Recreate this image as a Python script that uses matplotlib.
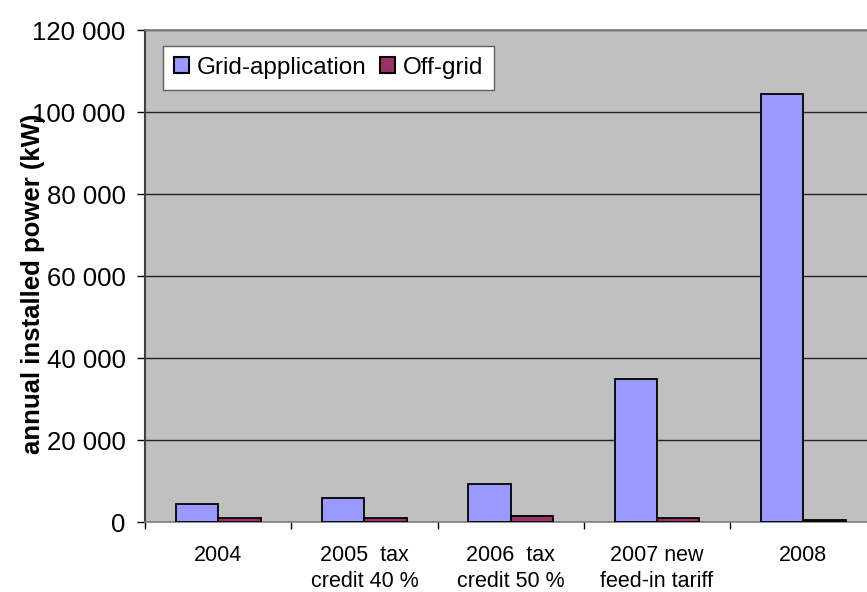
import numpy as np
import matplotlib.pyplot as plt
from matplotlib.ticker import FuncFormatter

plt.rcParams['font.family'] = ['Liberation Sans', 'DejaVu Sans']

categories = ['2004', '2005  tax\ncredit 40 %', '2006  tax\ncredit 50 %',
              '2007 new\nfeed-in tariff', '2008']
grid_kw = [4300, 5800, 9300, 35000, 104400]
offgrid_kw = [900, 900, 1400, 900, 400]

fig = plt.figure(figsize=(8.67, 5.92), dpi=100)
# plot area runs a bit past the right edge of the figure
ax = fig.add_axes([0.1672, 0.1182, 0.8437, 0.8311])
ax.set_facecolor('#C0C0C0')

x = np.arange(len(categories))
w = 0.29
ax.bar(x - w / 2, grid_kw, w, color='#9999FF', edgecolor='black',
       linewidth=1.3, label='Grid-application', zorder=3)
ax.bar(x + w / 2, offgrid_kw, w, color='#993366', edgecolor='black',
       linewidth=1.3, label='Off-grid', zorder=3)

ax.set_xlim(-0.5, len(categories) - 0.5)
ax.set_ylim(0, 120000)
ax.set_yticks(np.arange(0, 120001, 20000))
ax.yaxis.set_major_formatter(FuncFormatter(lambda v, p: f'{int(v):,}'.replace(',', ' ')))
ax.yaxis.grid(True, color='#222222', linewidth=1.0, zorder=1)

ax.set_xticks(x)
ax.set_xticklabels(categories, fontsize=15.5, linespacing=1.32)
ax.set_xticks(np.arange(-0.5, len(categories), 1), minor=True)
ax.tick_params(axis='x', which='major', length=0, pad=16.5)
ax.tick_params(axis='x', which='minor', length=5, width=1, color='black')
ax.tick_params(axis='y', labelsize=18.5, length=6, width=1, pad=8)

for side in ['top', 'right', 'bottom']:
    ax.spines[side].set_color('#808080')
    ax.spines[side].set_linewidth(1.2)
ax.spines['left'].set_color('#404040')
ax.spines['left'].set_linewidth(1.5)

ax.set_ylabel('annual installed power (kW)', fontsize=18.5, fontweight='bold')
ax.yaxis.set_label_coords(-0.136, 0.484)

leg = ax.legend(loc='upper left', bbox_to_anchor=(0.0246, 0.968), borderaxespad=0,
                ncol=2, fontsize=17.5, fancybox=False, framealpha=1,
                edgecolor='#606060', handlelength=0.62, handleheight=0.62,
                handletextpad=0.32, columnspacing=0.55, borderpad=0.45)
leg.get_frame().set_linewidth(1.0)
for h in leg.legend_handles:
    h.set_linewidth(1.5)

fig.savefig('out.png', dpi=100)
